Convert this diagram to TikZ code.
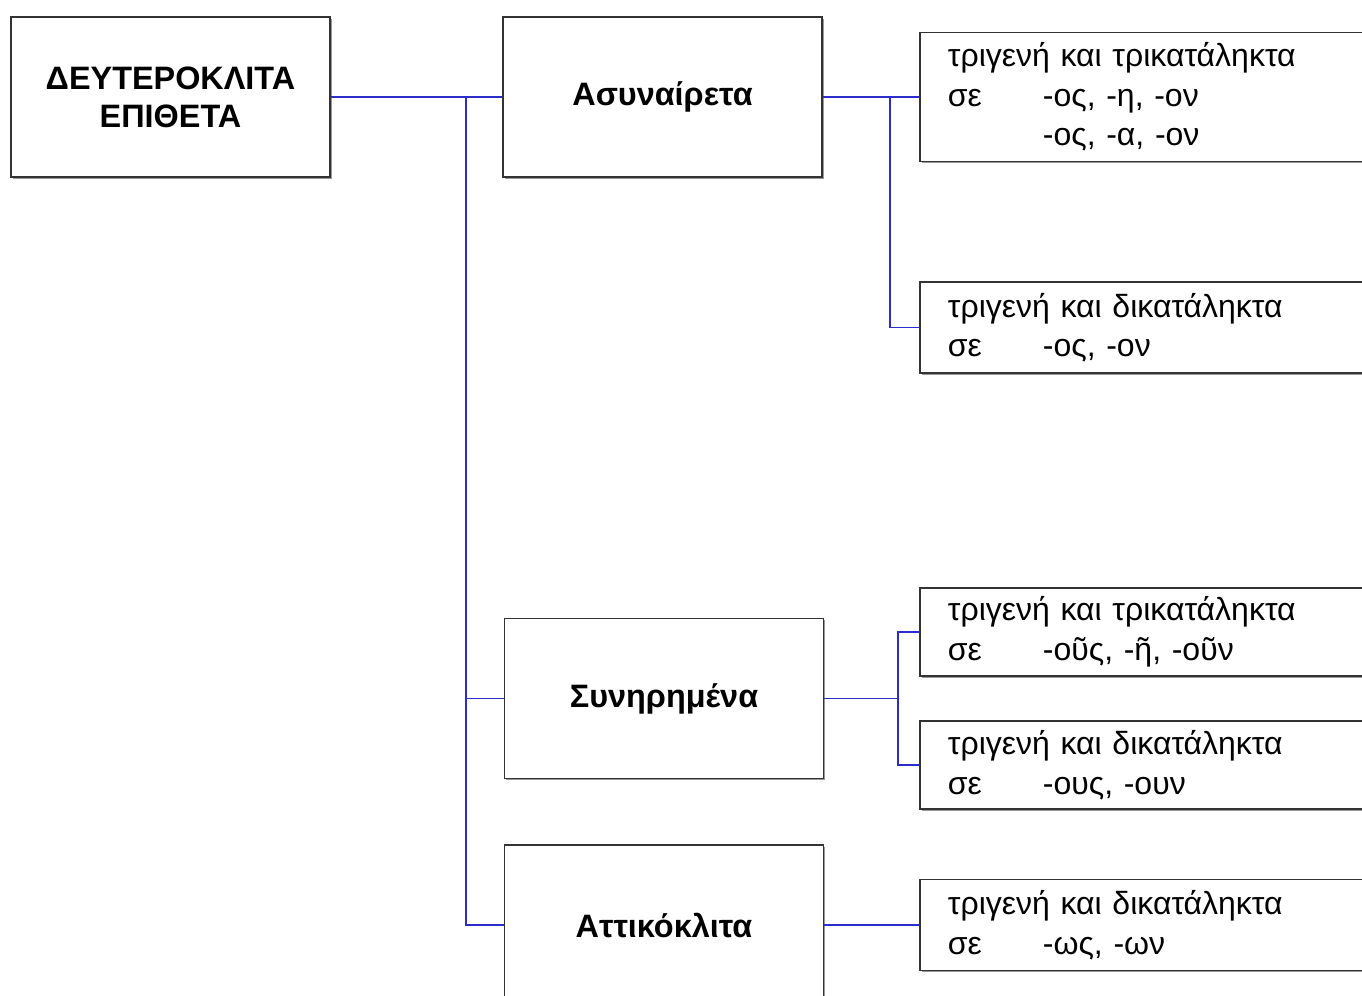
\documentclass[tikz,border=0pt]{standalone}
\usepackage{fontspec}
\setmainfont{Liberation Sans}
\usetikzlibrary{positioning,calc,shadows}
\definecolor{linkblue}{RGB}{45,45,205}

\begin{document}
\begin{tikzpicture}[x=0.5pt, y=-0.5pt,
    box/.style={draw=black!80, line width=0.9pt, fill=white,
        drop shadow={shadow xshift=0.9pt, shadow yshift=-0.9pt, fill=black!50, opacity=0.8}},
    head/.style={box, minimum width=159.5pt, minimum height=80pt, align=center,
        font=\fontsize{16.2}{19}\selectfont\bfseries},
    leaf/.style={box, anchor=west, text width=220pt, inner xsep=14pt, align=left,
        font=\fontsize{16}{19.75}\selectfont},
    link/.style={draw=linkblue, line width=0.9pt}]
    % sizes
    \def\segap{47.5pt}
    \def\se{\makebox[\segap][l]{σε}}

    % frame of the page
    \useasboundingbox (0,0) rectangle (1362,996);
    \clip (0,0) rectangle (1362,996);

    % main boxes
    \node[head] (root) at (170.5,97) {ΔΕΥΤΕΡΟΚΛΙΤΑ\\ΕΠΙΘΕΤΑ};
    \node[head] (asyn) at (662.5,97) {Ασυναίρετα};
    \node[head] (syn) at (664,698.5) {Συνηρημένα};
    \node[head] (att) at (664,925) {Αττικόκλιτα};

    % right-hand boxes
    \node[leaf, minimum height=64.5pt] (r1) at (919,97)
        {τριγενή και τρικατάληκτα\\\se-ος, -η, -ον\\\hspace*{\segap}-ος, -α, -ον};
    \node[leaf, minimum height=45.5pt] (r2) at (919,327.5)
        {τριγενή και δικατάληκτα\\\se-ος, -ον};
    \node[leaf, minimum height=44pt] (r3) at (919,632)
        {τριγενή και τρικατάληκτα\\\se-οῦς, -ῆ, -οῦν};
    \node[leaf, minimum height=44pt] (r4) at (919,765)
        {τριγενή και δικατάληκτα\\\se-ους, -ουν};
    \node[leaf, minimum height=45.5pt] (r5) at (919,925)
        {τριγενή και δικατάληκτα\\\se-ως, -ων};

    % branch points
    \coordinate (trunk) at (466,97);
    \coordinate (s1) at (890,97);
    \coordinate (s2) at (898,698.5);

    % connectors
    \draw[link] (root.east) -- (asyn.west);
    \draw[link] (trunk) |- (att.west);
    \draw[link] (trunk |- syn.west) -- (syn.west);

    \draw[link] (asyn.east) -- (r1.west);
    \draw[link] (s1) |- (r2.west);

    \draw[link] (syn.east) -- (s2);
    \draw[link] (r3.west) -| (s2) |- (r4.west);

    \draw[link] (att.east) -- (r5.west);
\end{tikzpicture}
\end{document}
